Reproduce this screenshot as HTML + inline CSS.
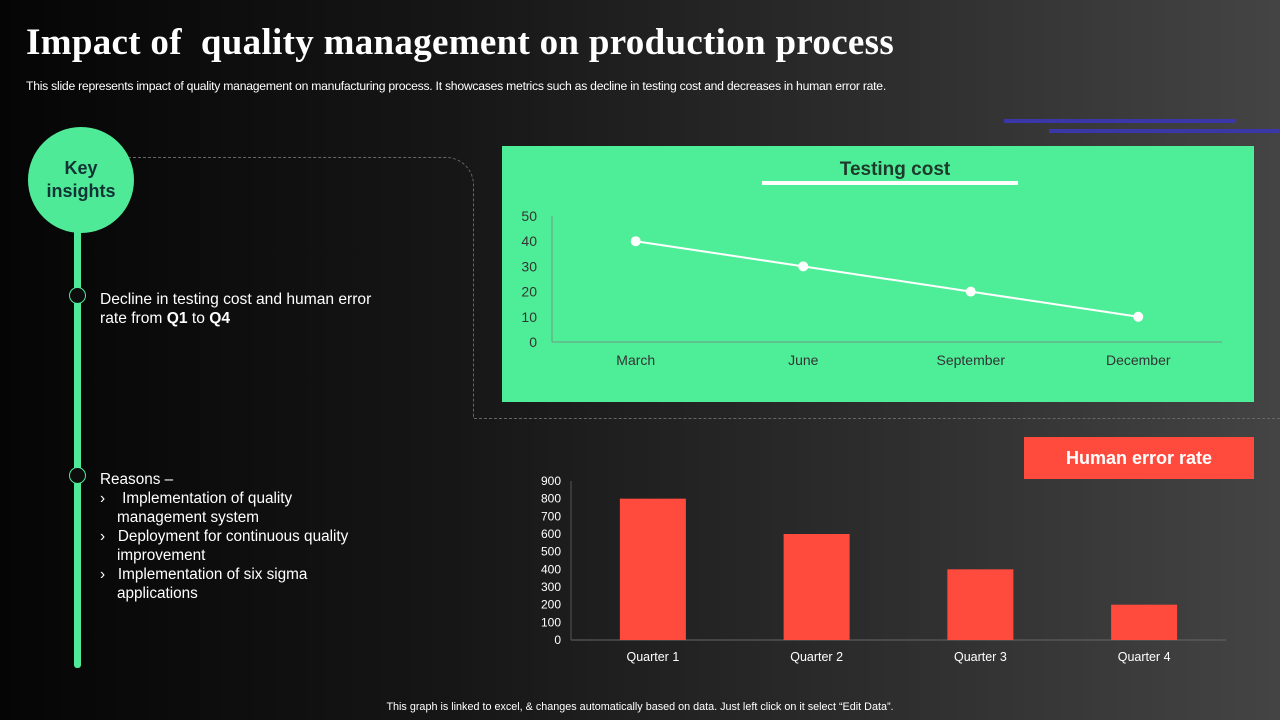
<!DOCTYPE html>
<html><head><meta charset="utf-8"><style>
body{margin:0;width:1280px;height:720px;overflow:hidden;background:linear-gradient(90deg,#050505 0%,#161616 35%,#2e2e2e 70%,#444 100%);font-family:"Liberation Sans",sans-serif;color:#fff;position:relative}
.a{position:absolute}
</style></head><body>
<div class="a" style="left:26px;top:21px;font-family:'Liberation Serif',serif;font-weight:bold;font-size:37px;letter-spacing:0.3px">Impact of&nbsp; quality management on production process</div>
<div class="a" style="left:26px;top:79px;font-size:12.2px;letter-spacing:-0.25px">This slide represents impact of quality management on manufacturing process. It showcases metrics such as decline in testing cost and decreases in human error rate.</div>
<div class="a" style="left:1004px;top:119px;width:232px;height:4px;background:#3b37a8"></div>
<div class="a" style="left:1049px;top:129px;width:231px;height:4px;background:#3b37a8"></div>
<div class="a" style="left:128px;top:157px;width:345px;height:260px;border-top:1px dashed #666;border-right:1px dashed #666;border-top-right-radius:28px"></div>
<div class="a" style="left:474px;top:418px;width:806px;border-top:1px dashed #666"></div>
<div class="a" style="left:74px;top:200px;width:7px;height:468px;background:#4eea98;border-radius:3px"></div>
<div class="a" style="left:28px;top:127px;width:106px;height:106px;border-radius:50%;background:#4eea98;color:#133;display:flex;align-items:center;justify-content:center;text-align:center;font-weight:bold;font-size:18px;line-height:23px">Key<br>insights</div>
<div class="a" style="left:69px;top:287px;width:15px;height:15px;border-radius:50%;background:#0d0d0d;border:1.5px solid #4eea98"></div>
<div class="a" style="left:69px;top:467px;width:15px;height:15px;border-radius:50%;background:#0d0d0d;border:1.5px solid #4eea98"></div>
<div class="a" style="left:100px;top:290px;font-size:15.6px;line-height:19px">Decline in testing cost and human error<br>rate from <b>Q1</b> to <b>Q4</b></div>
<div class="a" style="left:100px;top:470px;font-size:15.3px;line-height:19px">Reasons –<br>›&nbsp;&nbsp;&nbsp; Implementation of quality<br>&nbsp;&nbsp;&nbsp;&nbsp;management system<br>›&nbsp;&nbsp; Deployment for continuous quality<br>&nbsp;&nbsp;&nbsp;&nbsp;improvement<br>›&nbsp;&nbsp; Implementation of six sigma<br>&nbsp;&nbsp;&nbsp;&nbsp;applications</div>
<div class="a" style="left:502px;top:146px;width:752px;height:256px;background:#4eee98"></div>
<div class="a" style="left:762px;top:159px;width:266px;text-align:center;color:#1e3a2a;font-size:19px;font-weight:bold">Testing cost</div>
<div class="a" style="left:762px;top:181px;width:256px;height:4px;background:#fff"></div>
<div class="a" style="left:1024px;top:437px;width:230px;height:42px;background:#ff4b3e;display:flex;align-items:center;justify-content:center;font-weight:bold;font-size:18px">Human error rate</div>
<svg class="a" style="left:0;top:0" width="1280" height="720">
<g id="line"></g><g id="bars"></g>
</svg>
<div class="a" style="left:0;width:1280px;top:701px;text-align:center;font-size:10.8px">This graph is linked to excel, &amp; changes automatically based on data. Just left click on it select “Edit Data”.</div>
<script>
const months=["March","June","September","December"];
const costValues=[40,30,20,10];
const costTicks=[0,10,20,30,40,50];
const quarters=["Quarter 1","Quarter 2","Quarter 3","Quarter 4"];
const errorValues=[800,600,400,200];
const errorTicks=[0,100,200,300,400,500,600,700,800,900];
const NS="http://www.w3.org/2000/svg";
function mk(t,a,p){const e=document.createElementNS(NS,t);for(const k in a)e.setAttribute(k,a[k]);p.appendChild(e);return e;}
const L=document.getElementById('line');
const ly=v=>342-v*(342-216)/50;
const lx=i=>552+(i+0.5)*(1222-552)/4;
let ax=mk('line',{x1:552,x2:1222,y1:342,y2:342,stroke:'#6a9a80','stroke-width':1},L);

let ay=mk('line',{x1:552,x2:552,y1:216,y2:342,stroke:'#6a9a80','stroke-width':1},L);

costTicks.forEach(v=>{const t=mk('text',{x:537,y:ly(v)+5,'text-anchor':'end','font-size':14,fill:'#333'},L);t.textContent=v;
});
months.forEach((m,i)=>{const t=mk('text',{x:lx(i),y:365,'text-anchor':'middle','font-size':14,fill:'#333'},L);t.textContent=m;
});
const pl=mk('polyline',{points:costValues.map((v,i)=>lx(i)+','+ly(v)).join(' '),fill:'none',stroke:'#fff','stroke-width':2},L);

costValues.forEach((v,i)=>{const c=mk('circle',{cx:lx(i),cy:ly(v),r:5,fill:'#fff'},L);
});
const B=document.getElementById('bars');
const by=v=>640-v*(640-481)/900;
const bx=i=>571+(i+0.5)*(1226-571)/4;
let bax=mk('line',{x1:571,x2:1226,y1:640,y2:640,stroke:'#666','stroke-width':1},B);

let bay=mk('line',{x1:571,x2:571,y1:481,y2:640,stroke:'#555','stroke-width':1},B);

errorTicks.forEach(v=>{const t=mk('text',{x:561,y:by(v)+4,'text-anchor':'end','font-size':12,fill:'#fff'},B);t.textContent=v;
});
quarters.forEach((q,i)=>{const t=mk('text',{x:bx(i),y:661,'text-anchor':'middle','font-size':12.5,fill:'#fff'},B);t.textContent=q;

const r=mk('rect',{x:bx(i)-33,y:by(errorValues[i]),width:66,height:640-by(errorValues[i]),fill:'#ff4b3e'},B);
});
</script>
</body></html>
